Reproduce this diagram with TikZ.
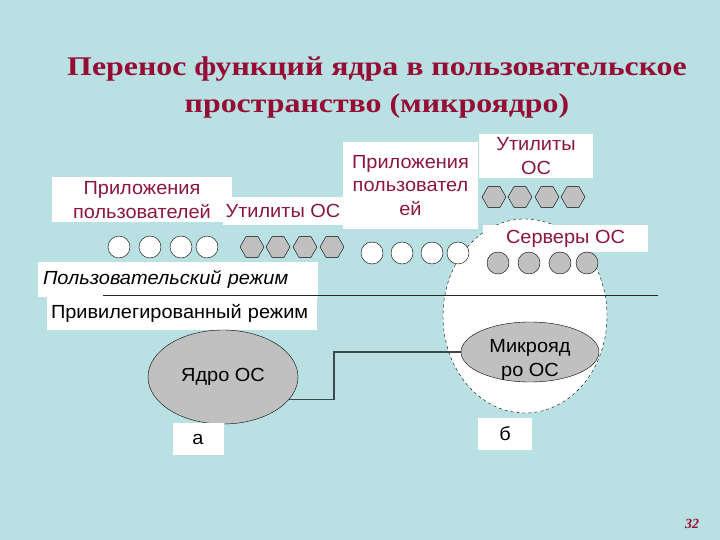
\documentclass[tikz,border=0pt]{standalone}
\usepackage{fontspec}
\setmainfont{Liberation Serif}
\setsansfont{Liberation Sans}[FakeStretch=1.05]
\newfontfamily\titlefont{Liberation Serif}[FakeStretch=1.18]
\usetikzlibrary{shapes.geometric}
\definecolor{slidebg}{RGB}{185,224,227}
\definecolor{titlered}{RGB}{150,12,52}
\definecolor{labelred}{RGB}{140,22,60}
\definecolor{kernelgray}{RGB}{192,192,192}
\definecolor{linkgray}{RGB}{60,72,78}

\begin{document}
\begin{tikzpicture}[
        x = 1pt, y = -1pt,
        wbox/.style = {fill=white, inner sep=0pt, align=center,
            font=\sffamily\fontsize{19}{23.5}\selectfont},
        redbox/.style = {wbox, text=labelred},
        app/.style = {circle, draw, fill=white, minimum size=22pt, inner sep=0pt},
        srv/.style = {app, fill=kernelgray},
        util/.style = {regular polygon, regular polygon sides=6, draw,
            fill=kernelgray, minimum size=24pt, inner sep=0pt},
        kernel/.style = {ellipse, draw, fill=kernelgray, inner sep=0pt,
            align=center, font=\sffamily\fontsize{19}{23.5}\selectfont},
        link/.style = {draw=linkgray, line width=1.2pt}
    ]
        \fill[slidebg] (0,0) rectangle (720,540);
        \useasboundingbox (0,0) rectangle (720,540);

        \node[text=titlered, align=center,
            font=\titlefont\bfseries\fontsize{27}{37}\selectfont] (title) at (377,88)
            {Перенос функций ядра в пользовательское\\пространство (микроядро)};

        % (a) kernel in privileged mode
        \node[redbox, minimum width=180pt, minimum height=45pt] (appsA) at (142,200) {Приложения\\пользователей};
        \node[redbox, minimum width=120pt, minimum height=28pt] (utilA) at (283,211) {Утилиты ОС};
        \foreach \i/\x in {1/119, 2/150, 3/181, 4/207}
            \node[app] (appA\i) at (\x,247) {};
        \foreach \i/\x in {1/252, 2/278, 3/305, 4/332}
            \node[util] (utilA\i) at (\x,247) {};
        \node[wbox, minimum width=280pt, minimum height=35pt, text width=270pt, align=left,
            font=\sffamily\itshape\fontsize{19}{23.5}\selectfont] (userMode) at (178,279.5) {Пользовательский режим};
        \node[wbox, minimum width=270pt, minimum height=33pt, text width=262pt, align=left] (privMode) at (182,313.5) {Привилегированный режим};
        \node[kernel, minimum width=150pt, minimum height=94pt] (coreA) at (223,377) {Ядро ОС};
        \node[wbox, minimum width=51pt, minimum height=32pt] (labelA) at (198,439) {а};

        % (b) microkernel
        \node[ellipse, draw, dashed, fill=white, minimum width=164pt, minimum height=194pt] (zoneB) at (525,316) {};
        \node[redbox, minimum width=135pt, minimum height=87pt] (appsB) at (410.5,185.5) {Приложения\\пользовател\\ей};
        \node[redbox, minimum width=114pt, minimum height=44pt] (utilB) at (536,156) {Утилиты\\ОС};
        \foreach \i/\x in {1/494, 2/520, 3/547, 4/573}
            \node[util] (utilB\i) at (\x,197) {};
        \foreach \i/\x in {1/372, 2/402, 3/432, 4/458}
            \node[app] (appB\i) at (\x,253) {};
        \node[redbox, minimum width=165pt, minimum height=27pt] (servB) at (565.5,238.5) {Серверы ОС};
        \foreach \i/\x in {1/498, 2/529, 3/560, 4/587}
            \node[srv] (servB\i) at (\x,263) {};
        \node[kernel, minimum width=138pt, minimum height=60pt] (microB) at (530,352) {};
        \node[align=center, inner sep=0pt, font=\sffamily\fontsize{19}{23.5}\selectfont] (microText) at (530,360) {Микрояд\\ро ОС};
        \node[wbox, minimum width=54pt, minimum height=32pt] (labelB) at (505,434) {б};

        \draw[black!85, line width=0.8pt] (103,295) -- (658,295);
        \draw[link] (coreA.-19) -- ++(45,0) |- (microB.west);

        \node[text=titlered, font=\bfseries\itshape\fontsize{14}{16}\selectfont] (pageNum) at (692,524) {32};
    \end{tikzpicture}
\end{document}
